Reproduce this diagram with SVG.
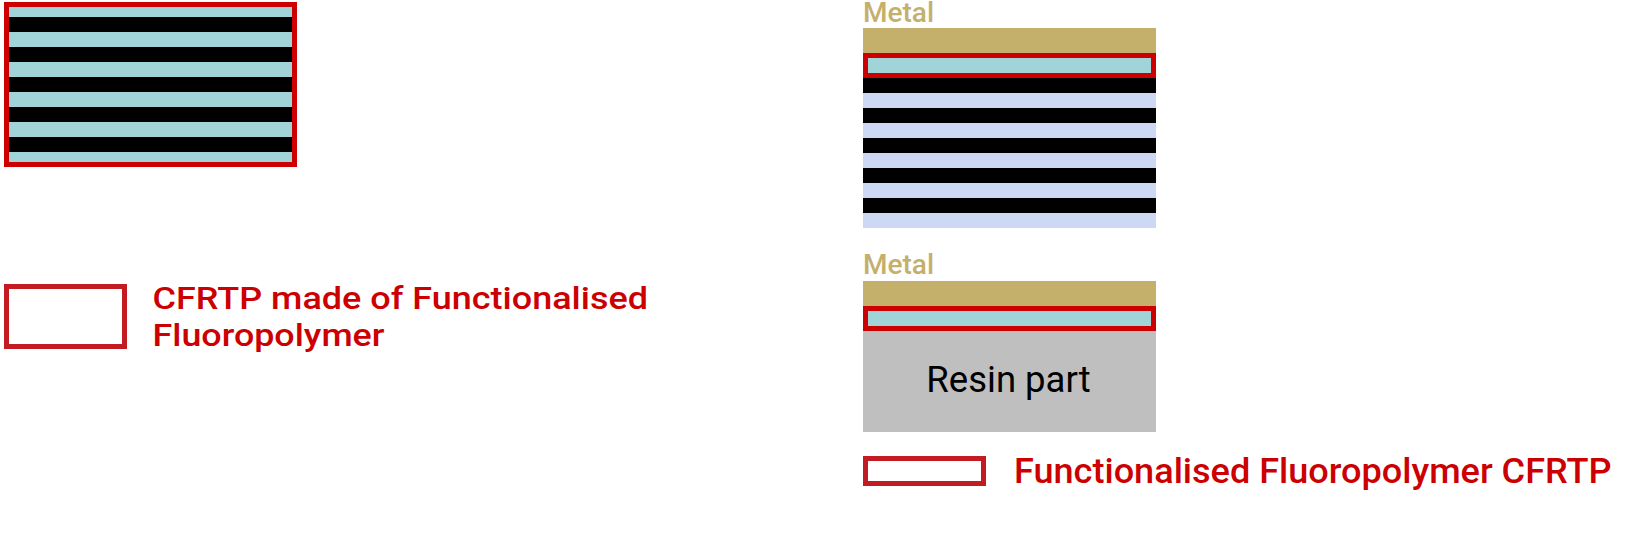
<svg xmlns="http://www.w3.org/2000/svg" width="1640" height="547" viewBox="0 0 1640 547">
<style>
.red{fill:none;stroke:#CC0000;stroke-width:5}
.leg{fill:none;stroke:#C21B22;stroke-width:5}
.cyan{fill:#A0D4D8}
.blk{fill:#000000}
.lav{fill:#CDD8F5}
.metal{fill:#C4B06B}
.gray{fill:#BFBFBF}
.mt{font-family:Roboto,"Liberation Sans",sans-serif;font-weight:500;font-size:28px;fill:#C4B06B}
.lt{font-family:Roboto,"Liberation Sans",sans-serif;font-weight:500;fill:#CC0000}
.rt{font-family:Roboto,"Liberation Sans",sans-serif;font-size:36.5px;fill:#000000}
</style>
<rect width="1640" height="547" fill="#FFFFFF"/>
<g id="cfrtp-laminate">
<rect class="cyan" x="4" y="2" width="293" height="165"/>
<rect class="blk" x="8" y="17" width="285" height="15"/>
<rect class="blk" x="8" y="47" width="285" height="15"/>
<rect class="blk" x="8" y="77" width="285" height="15"/>
<rect class="blk" x="8" y="107" width="285" height="15"/>
<rect class="blk" x="8" y="137" width="285" height="15"/>
<rect class="red" x="6.5" y="4.5" width="288" height="160"/>
</g>
<g id="legend-left">
<rect class="leg" x="6.5" y="286.5" width="118" height="60"/>
<text class="lt" font-size="31" x="152.5" y="309.3" textLength="495.5" lengthAdjust="spacingAndGlyphs">CFRTP made of Functionalised</text>
<text class="lt" font-size="31" x="152.5" y="345.5" textLength="232" lengthAdjust="spacingAndGlyphs">Fluoropolymer</text>
</g>
<g id="stack-top">
<text class="mt" x="863" y="22">Metal</text>
<rect class="metal" x="863" y="28" width="293" height="25"/>
<rect class="cyan" x="863" y="53" width="293" height="25"/>
<rect class="red" x="865.5" y="55.5" width="288" height="20"/>
<rect class="lav" x="863" y="78" width="293" height="150"/>
<rect class="blk" x="863" y="78" width="293" height="15"/>
<rect class="blk" x="863" y="108" width="293" height="15"/>
<rect class="blk" x="863" y="138" width="293" height="15"/>
<rect class="blk" x="863" y="168" width="293" height="15"/>
<rect class="blk" x="863" y="198" width="293" height="15"/>
</g>
<g id="stack-bottom">
<text class="mt" x="863" y="274.3">Metal</text>
<rect class="metal" x="863" y="281" width="293" height="25"/>
<rect class="cyan" x="863" y="306" width="293" height="25"/>
<rect class="red" x="865.5" y="308.5" width="288" height="20"/>
<rect class="gray" x="863" y="331" width="293" height="101"/>
<text class="rt" x="1008.5" y="391.7" text-anchor="middle">Resin part</text>
</g>
<g id="legend-bottom">
<rect class="leg" x="865.5" y="458.5" width="118" height="25"/>
<text class="lt" font-size="34.5" x="1014" y="482.7" textLength="597.5" lengthAdjust="spacingAndGlyphs">Functionalised Fluoropolymer CFRTP</text>
</g>
<g id="connectors"></g>
</svg>
